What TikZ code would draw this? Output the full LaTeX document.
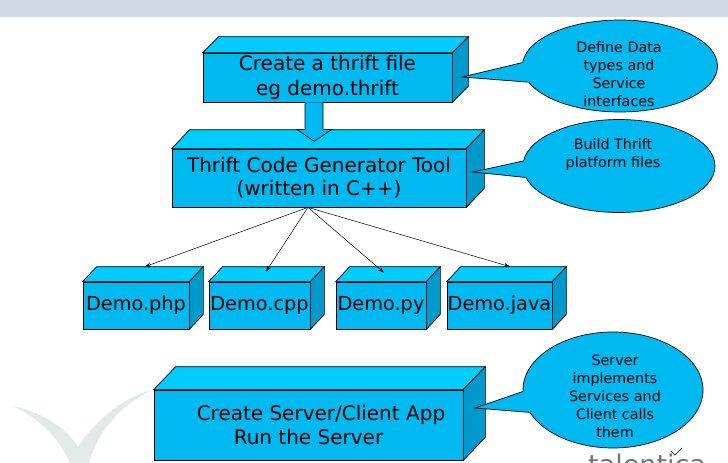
\documentclass[tikz,border=0pt]{standalone}
\usepackage{fontspec}
\setmainfont{DejaVu Sans}
\usetikzlibrary{shapes.geometric,calc,arrows.meta}
\definecolor{frontc}{RGB}{0,185,240}
\definecolor{topc}{RGB}{0,204,255}
\definecolor{sidec}{RGB}{0,153,204}
\definecolor{bandc}{RGB}{207,217,227}
\definecolor{markc}{RGB}{227,232,232}
\definecolor{logoc}{RGB}{115,120,125}
\definecolor{logochk}{RGB}{40,70,120}
\newcommand\cubefaces[3]{%
  \filldraw[facestyle, fill=topc] (#1.north west) -- ++(#2,-#3) -- ($(#1.north east)+(#2,-#3)$) -- (#1.north east) -- cycle;
  \filldraw[facestyle, fill=sidec] (#1.north east) -- ++(#2,-#3) -- ($(#1.south east)+(#2,-#3)$) -- (#1.south east) -- cycle;}
\newcommand\bubbletail[4]{%
  \fill[frontc] (#2) -- (#1.#3) -- ($(#1.#3)!0.12!(#1.center)$) -- ($(#1.#4)!0.12!(#1.center)$) -- (#1.#4) -- cycle;
  \draw[facestyle] (#1.#3) -- (#2) -- (#1.#4);}
\tikzset{
  facestyle/.style={draw=black, line width=0.7pt, line join=miter},
  box/.style={draw=black, line width=0.7pt, fill=frontc, inner sep=0pt, align=center, font=\fontsize{20}{25}\selectfont},
  demo/.style={box, minimum height=47pt, font=\fontsize{19.3}{23}\selectfont},
  bubble/.style={ellipse, draw=black, line width=0.7pt, fill=frontc, inner sep=0pt},
  bubbletext/.style={align=center, inner sep=0pt, font=\fontsize{14.3}{18}\selectfont},
  fanarrow/.style={draw=black, line width=0.5pt, -{Stealth[length=6pt,width=4pt]}},
  blockarrow/.style={fill=frontc, draw=black, line width=0.7pt, line join=miter}
}
\begin{document}
\begin{tikzpicture}[x=1pt,y=-1pt]
\useasboundingbox (0,0) rectangle (728,463);
\clip (0,0) rectangle (728,463);
% top band
\fill[bandc] (0,0) rectangle (728,17);
% watermark check mark
\fill[markc] (12,406) .. controls (35,410) and (65,425) .. (78,447)
  .. controls (92,425) and (120,398) .. (154,389)
  .. controls (125,402) and (97,430) .. (89,463)
  -- (70,463) .. controls (60,440) and (40,418) .. (12,406) -- cycle;
% watermark logo text
\node[anchor=base west, inner sep=0pt, text=logoc, font=\fontsize{27}{27}\selectfont] (logo) at (588,474) {talentica};
\draw[logochk, line width=0.9pt] (671,451) -- (675,455) -- (682,448);

% boxes
\node[box, minimum width=249pt, minimum height=49pt] (b1) at (327.5,77.5) {Create a thrift file\\eg demo.thrift};
\cubefaces{b1}{16}{16}
\node[box, minimum width=294pt, minimum height=58pt, font=\fontsize{20}{23}\selectfont] (b2) at (319,178) {Thrift Code Generator Tool\\(written in C++)};
\cubefaces{b2}{18}{19}

% block arrow b1 -> b2
\coordinate (ba) at ($(b1.south)+(-13.5,0)$);
\filldraw[blockarrow] ($(ba)+(-9,0)$) -- ($(ba)+(-9,27)$) -- ($(ba)+(-17,27)$) -- ($(ba)+(0,39)$) -- ($(ba)+(18,27)$) -- ($(ba)+(9,27)$) -- ($(ba)+(9,0)$);

% demo boxes
\node[demo, minimum width=106pt] (php) at (136,305.5) {Demo.php};
\cubefaces{php}{14}{15}
\node[demo, minimum width=101pt] (cpp) at (259.5,305.5) {Demo.cpp};
\cubefaces{cpp}{14}{15}
\node[demo, minimum width=90pt] (py) at (381,305.5) {Demo.py};
\cubefaces{py}{14}{15}
\node[demo, minimum width=105pt] (java) at (499.5,305.5) {Demo.java};
\cubefaces{java}{14}{15}

% fan arrows
\coordinate (fan) at ($(b2.south)+(-11,0)$);
\draw[fanarrow] (fan) -- ($(php.north)+(9,-15)$);
\draw[fanarrow] (fan) -- ($(cpp.north)+(6.5,-10)$);
\draw[fanarrow] (fan) -- ($(py.north)+(3,-9)$);
\draw[fanarrow] (fan) -- ($(java.north)+(10.5,-15)$);

% bottom box
\node[box, minimum width=309pt, minimum height=70pt, font=\fontsize{20}{24}\selectfont] (b3) at (308.5,425) {\hspace*{25pt}Create Server/Client App\\Run the Server};
\cubefaces{b3}{22}{23}

% callouts
\coordinate (t1) at (462,77);
\coordinate (t2) at (473,172);
\coordinate (t3) at (475,408);
\node[bubble, minimum width=195pt, minimum height=92pt] (e1) at (620,66) {};
\bubbletail{e1}{t1}{178}{190}
\node[bubbletext] (e1text) at (619,74.5) {Define Data\\types and\\Service\\interfaces};
\node[bubble, minimum width=192pt, minimum height=93pt] (e2) at (619,166) {};
\bubbletail{e2}{t2}{177}{187}
\node[bubbletext] (e2text) at (613,155) {Build Thrift\\platform files};
\node[bubble, minimum width=180pt, minimum height=116pt] (e3) at (613,390) {};
\bubbletail{e3}{t3}{181}{195}
\node[bubbletext] (e3text) at (615,396) {Server\\implements\\Services and\\Client calls\\them};
\end{tikzpicture}
\end{document}
